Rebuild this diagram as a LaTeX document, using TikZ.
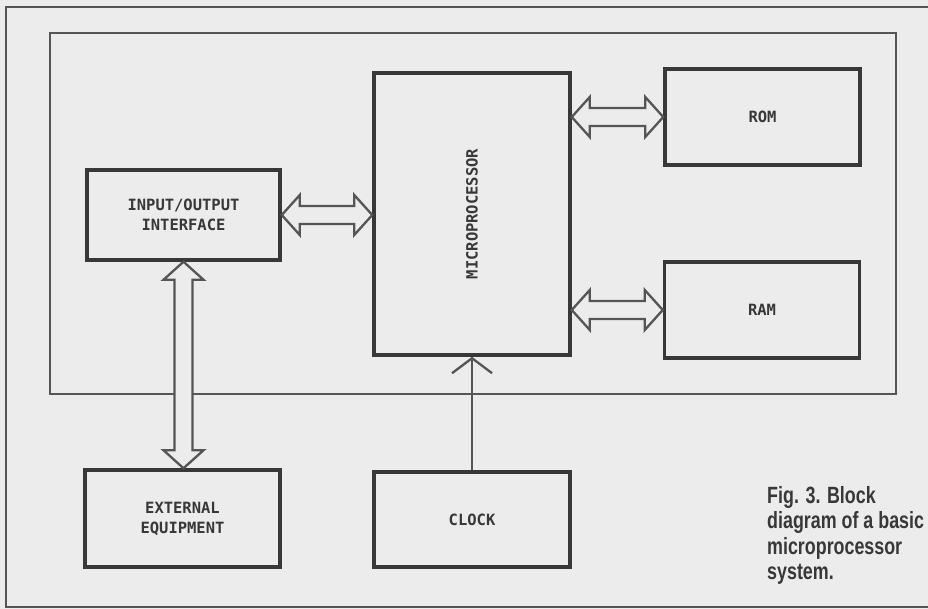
\documentclass[tikz,border=0pt]{standalone}
\usepackage{fontspec}
\usetikzlibrary{calc,arrows.meta}
\setmonofont{DejaVu Sans Mono}
\newfontfamily\capfont[FakeStretch=0.76]{Liberation Sans}
\definecolor{paper}{HTML}{ECECEC}
\definecolor{ink}{HTML}{383838}
\definecolor{pen}{HTML}{555555}
\tikzset{
  block/.style={draw=ink, line width=3.5pt, fill=paper, text=ink, align=center,
    font=\ttfamily\bfseries\fontsize{15.5}{20}\selectfont},
  frame/.style={draw=pen, line width=2.6pt},
  bus/.style={draw=pen, line width=2.3pt, line join=miter, fill=paper},
  sig/.style={draw=pen, line width=2.3pt, -{Straight Barb[length=15pt,width=40pt]}},
}
% hollow double-headed bus arrow between two named coordinates
\newcommand{\busarrow}[2]{%
  \draw[bus] (#1)
    -- ($(#1)!18pt!(#2)!20pt!90:(#2)$) -- ($(#1)!18pt!(#2)!9pt!90:(#2)$)
    -- ($(#2)!18pt!(#1)!9pt!-90:(#1)$) -- ($(#2)!18pt!(#1)!20pt!-90:(#1)$)
    -- (#2)
    -- ($(#2)!18pt!(#1)!20pt!90:(#1)$) -- ($(#2)!18pt!(#1)!9pt!90:(#1)$)
    -- ($(#1)!18pt!(#2)!9pt!-90:(#2)$) -- ($(#1)!18pt!(#2)!20pt!-90:(#2)$)
    -- cycle;}
\begin{document}
\begin{tikzpicture}[x=1pt, y=-1pt]
  \fill[paper] (0,0) rectangle (928,609);
  \useasboundingbox (0,0) rectangle (928,609);
  % frames
  \draw[frame] (6,7) rectangle (940,607);
  \draw[frame] (50,33) rectangle (896,394);
  % blocks
  \node[block, minimum width=193pt, minimum height=90pt] (io) at (183.5,215) {INPUT/OUTPUT\\INTERFACE};
  \node[block, minimum width=196pt, minimum height=282pt,
        label={[rotate=90, text=ink, font=\ttfamily\bfseries\fontsize{15.5}{20}\selectfont]center:MICROPROCESSOR}] (mp) at (472,214) {};
  \node[block, minimum width=195pt, minimum height=96pt] (rom) at (762.5,117) {ROM};
  \node[block, minimum width=195pt, minimum height=96pt] (ram) at (762,310) {RAM};
  \node[block, minimum width=195pt, minimum height=97pt] (ext) at (182.5,518.5) {EXTERNAL\\EQUIPMENT};
  \node[block, minimum width=196pt, minimum height=95pt] (clk) at (472,519.5) {CLOCK};
  % caption
  \node[anchor=north west, inner sep=0pt, align=left, text=ink,
        font=\capfont\bfseries\fontsize{23.5}{25.5}\selectfont] (caption) at (767,486)
        {Fig. 3. Block\\diagram of a basic\\microprocessor\\system.};
  % buses
  \coordinate (mpL) at (io.east -| mp.west);
  \coordinate (mpR1) at (mp.east |- rom.west);
  \coordinate (mpR2) at (mp.east |- ram.west);
  \coordinate (extT) at (io.south |- ext.north);
  \busarrow{io.east}{mpL}
  \busarrow{mpR1}{rom.west}
  \busarrow{mpR2}{ram.west}
  \busarrow{io.south}{extT}
  % clock line
  \draw[sig] (clk.north) -- (clk.north |- mp.south);
\end{tikzpicture}
\end{document}
